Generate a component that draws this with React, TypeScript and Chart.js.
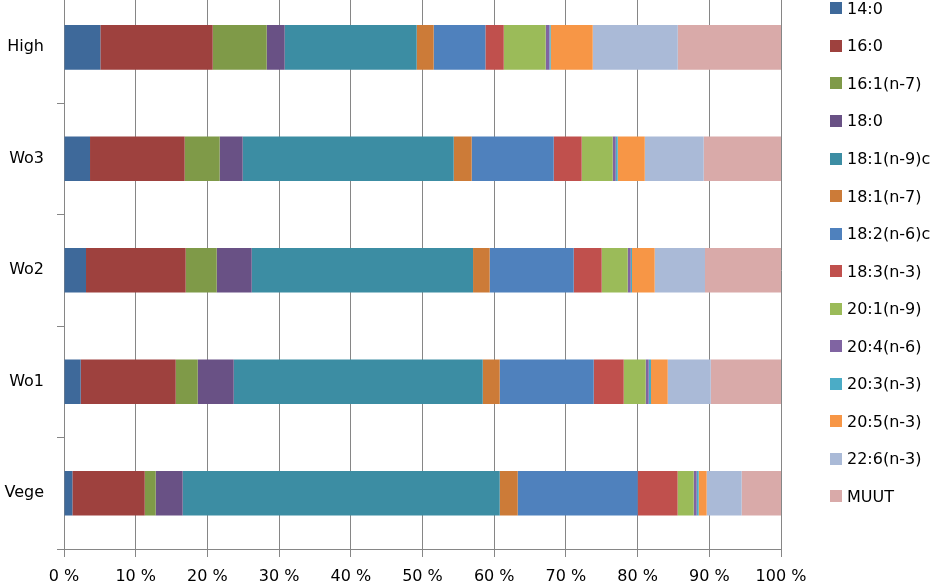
import React, { useEffect, useRef } from "react";
import { Chart, registerables } from "chart.js";

Chart.register(...registerables);

const categories = ["High", "Wo3", "Wo2", "Wo1", "Vege"];

const seriesNames = [
  "14:0",
  "16:0",
  "16:1(n-7)",
  "18:0",
  "18:1(n-9)c",
  "18:1(n-7)",
  "18:2(n-6)c",
  "18:3(n-3)",
  "20:1(n-9)",
  "20:4(n-6)",
  "20:3(n-3)",
  "20:5(n-3)",
  "22:6(n-3)",
  "MUUT",
];

// values per category: [High, Wo3, Wo2, Wo1, Vege] (percent of total)
const s14_0 = [5.07, 3.63, 3.07, 2.33, 1.17];
const s16_0 = [15.67, 13.2, 13.9, 13.25, 10.09];
const s16_1n7 = [7.53, 4.88, 4.33, 3.07, 1.53];
const s18_0 = [2.51, 3.21, 4.88, 5.02, 3.76];
const s18_1n9c = [18.41, 29.43, 30.87, 34.73, 44.22];
const s18_1n7 = [2.37, 2.51, 2.32, 2.37, 2.51];
const s18_2n6c = [7.21, 11.44, 11.72, 13.11, 16.73];
const s18_3n3 = [2.56, 3.9, 3.9, 4.18, 5.57];
const s20_1n9 = [5.85, 4.33, 3.63, 3.07, 2.24];
const s20_4n6 = [0.52, 0.42, 0.42, 0.42, 0.42];
const s20_3n3 = [0.18, 0.28, 0.18, 0.32, 0.28];
const s20_5n3 = [5.86, 3.77, 3.16, 2.33, 1.11];
const s22_6n3 = [11.86, 8.22, 7.02, 6.0, 4.88];
const sMUUT = [14.4, 10.78, 10.6, 9.8, 5.49];

const seriesData = [
  s14_0, s16_0, s16_1n7, s18_0, s18_1n9c, s18_1n7, s18_2n6c,
  s18_3n3, s20_1n9, s20_4n6, s20_3n3, s20_5n3, s22_6n3, sMUUT,
];

const seriesColors = [
  "#3E699A",
  "#9E413E",
  "#7F9A48",
  "#695185",
  "#3C8DA3",
  "#CC7B38",
  "#4F81BD",
  "#C0504D",
  "#9BBB59",
  "#8064A2",
  "#4BACC6",
  "#F79646",
  "#AABAD7",
  "#D9AAA9",
];

const xTickStep = 10;
const xTickSuffix = " %";

const FONT_FAMILY = "DejaVu Sans";
const FONT_SIZE = 16;

export default function App() {
  const ref = useRef<HTMLCanvasElement>(null);

  useEffect(() => {
    const font = { family: FONT_FAMILY, size: FONT_SIZE };
    const chart = new Chart(ref.current!, {
      type: "bar",
      data: {
        labels: categories,
        datasets: seriesNames.map((name, i) => ({
          label: name,
          data: seriesData[i],
          backgroundColor: seriesColors[i],
          borderWidth: 0,
          barPercentage: 0.4,
          categoryPercentage: 1,
        })),
      },
      options: {
        indexAxis: "y",
        animation: false,
        responsive: false,
        maintainAspectRatio: false,
        layout: { padding: { top: 20, right: 156, left: 0, bottom: 0 } },
        plugins: {
          legend: { display: false },
          tooltip: { enabled: false },
        },
        scales: {
          x: {
            stacked: true,
            min: 0,
            max: 100,
            ticks: {
              stepSize: xTickStep,
              callback: (v: any) => v + xTickSuffix,
              color: "#000",
              font,
              padding: 10,
              maxRotation: 0,
            },
            grid: { color: "#868686", tickLength: 8, lineWidth: 1 },
            border: { color: "#868686" },
            afterFit: (s: any) => {
              s.height = 40;
            },
          },
          y: {
            stacked: true,
            offset: true,
            ticks: { color: "#000", font, padding: 13 },
            grid: {
              drawOnChartArea: false,
              offset: true,
              tickLength: 7,
              color: "#868686",
            },
            border: { color: "#868686" },
            afterFit: (s: any) => {
              s.width = 64;
            },
          },
        },
      },
    } as any);
    return () => chart.destroy();
  }, []);

  return (
    <div
      style={{
        position: "fixed",
        left: 0,
        top: 0,
        width: 937,
        height: 584,
        overflow: "hidden",
        background: "#fff",
      }}
    >
      <canvas
        ref={ref}
        width={937}
        height={620}
        style={{ position: "absolute", left: 0, top: -31, width: 937, height: 620 }}
      />
      {seriesNames.map((name, i) => (
        <div
          key={name}
          style={{
            position: "absolute",
            left: 830,
            top: 8.3 + i * 37.55 - 10,
            height: 20,
            display: "flex",
            alignItems: "center",
            whiteSpace: "nowrap",
            fontFamily: FONT_FAMILY,
            fontSize: FONT_SIZE,
            color: "#000",
          }}
        >
          <span
            style={{
              display: "inline-block",
              width: 12,
              height: 12,
              background: seriesColors[i],
              marginRight: 5,
              flex: "none",
            }}
          />
          <span>{name}</span>
        </div>
      ))}
    </div>
  );
}
